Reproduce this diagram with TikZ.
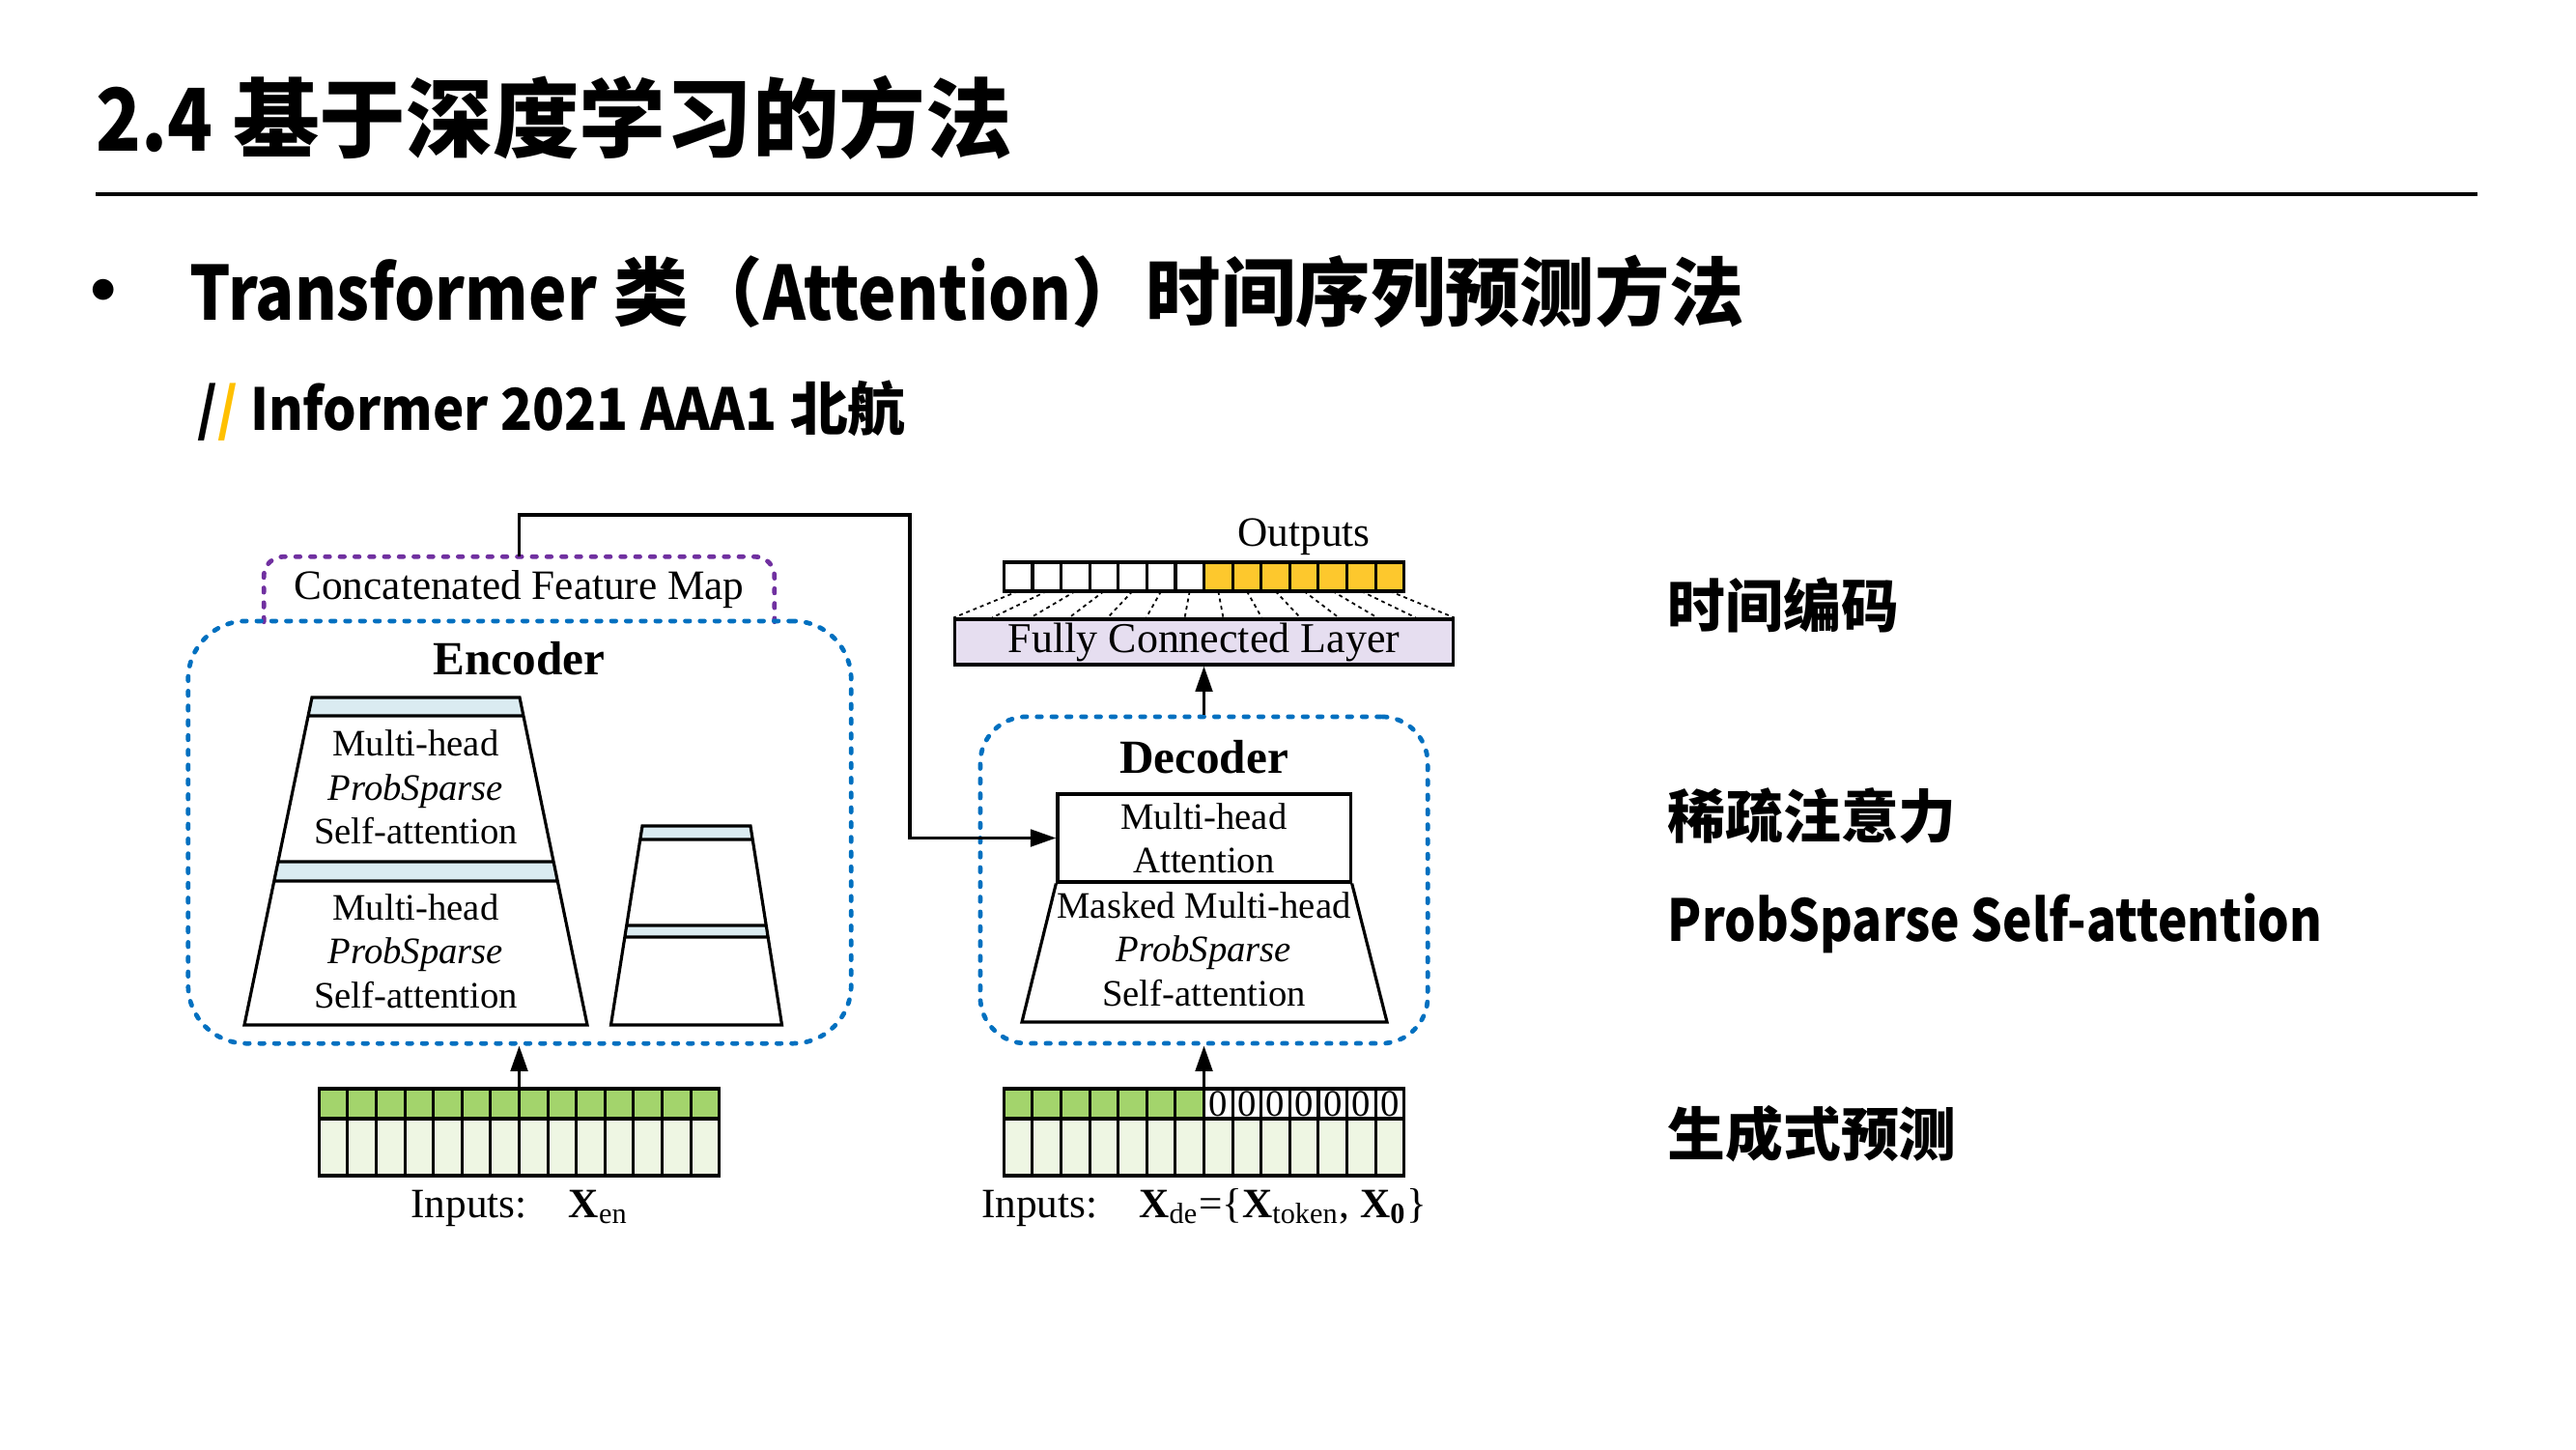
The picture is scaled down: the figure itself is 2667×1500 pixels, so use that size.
\documentclass[tikz,border=0pt]{standalone}
\usepackage{fontspec}
\setmainfont{Liberation Serif}
\newfontfamily\cjk{Noto Sans CJK SC}
\newfontfamily\cjkn{Noto Sans CJK SC}[FakeStretch=0.86]
\newfontfamily\cjkm{Noto Sans CJK SC}[FakeStretch=0.91]
\usepackage{tikz}
\usetikzlibrary{
	positioning,
	calc,
	arrows.meta
}
\definecolor{encblue}{RGB}{0,112,192}
\definecolor{cfmpurple}{RGB}{112,48,160}
\definecolor{tokgreen}{RGB}{163,212,108}
\definecolor{palegreen}{RGB}{238,246,227}
\definecolor{outyellow}{RGB}{253,200,45}
\definecolor{barblue}{RGB}{218,235,241}
\definecolor{fclilac}{RGB}{230,222,240}
\definecolor{slashyellow}{RGB}{255,192,0}
\tikzset{
	blockline/.style={
		line width=0.9pt
	},
	dashbox/.style={
		draw=encblue, line width=1.35pt, line cap=round,
		dash pattern=on 1.3pt off 3.05pt, inner sep=0pt
	},
	cfmline/.style={
		draw=cfmpurple, line width=1.35pt, line cap=round,
		dash pattern=on 1.3pt off 3.05pt, rounded corners=0.2cm
	},
	arr/.style={
		line width=0.9pt, -{Triangle[length=7.5pt,width=5pt]}
	},
	fcdot/.style={
		line width=0.5pt, dash pattern=on 1.1pt off 1.1pt
	},
	txt/.style={
		font=\fontsize{11}{12.9}\selectfont, align=center, inner sep=0pt
	},
	lbl/.style={
		font=\fontsize{12.3}{14}\selectfont, inner sep=0pt
	},
	head/.style={
		font=\fontsize{14}{16}\selectfont\bfseries, inner sep=0pt
	},
	cell/.style={
		draw, line width=0.9pt, inner sep=0pt, outer sep=0pt,
		minimum width=0.296cm, font=\fontsize{11}{12}\selectfont
	},
	tokrow/.style={cell, fill=tokgreen, minimum height=0.31cm},
	seqrow/.style={cell, fill=palegreen, minimum height=0.59cm},
	outrow/.style={cell, minimum height=0.30cm},
	cn/.style={
		inner sep=0pt, anchor=west
	}
}

\begin{document}
\begin{tikzpicture}[x=0.01cm,y=-0.01cm]
	\path[use as bounding box, fill=white] (0,0) rectangle (2667,1500);

	% slide heading
	\node[cn, font=\cjk\bfseries\fontsize{25.5}{30}\selectfont] (title) at (99,122) {{\cjkn 2.4} 基于深度学习的方法};
	\draw[line width=1.4pt] (99,201) -- (2565,201);
	\node[font=\cjk\bfseries\fontsize{22}{26}\selectfont, inner sep=0pt] (dot) at (107,309) {•};
	\node[cn, font=\cjk\bfseries\fontsize{22}{26}\selectfont] (sub) at (196,302) {{\cjkn Transformer} 类（{\cjkn Attention}）时间序列预测方法};
	\node[cn, font=\cjk\bfseries\fontsize{17}{20}\selectfont] (src) at (204,425) {{\cjkm /\textcolor{slashyellow}{/} Informer 2021 AAA1} 北航};

	% notes on the right
	\node[cn, font=\cjk\bfseries\fontsize{17}{20}\selectfont] (n1) at (1726,626) {时间编码};
	\node[cn, font=\cjk\bfseries\fontsize{17}{20}\selectfont] (n2) at (1726,845) {稀疏注意力};
	\node[cn, font=\cjkn\bfseries\fontsize{17}{20}\selectfont] (n3) at (1726,956) {ProbSparse Self-attention};
	\node[cn, font=\cjk\bfseries\fontsize{17}{20}\selectfont] (n4) at (1726,1174) {生成式预测};

	% encoder
	\node[lbl, minimum width=5.27cm, minimum height=0.66cm] (cfm) at (537.5,610) {Concatenated Feature Map};
	\draw[cfmline] (cfm.south west) |- (cfm.north) -| (cfm.south east);
	\node[dashbox, rounded corners=0.6cm, minimum width=6.86cm, minimum height=4.37cm] (enc) at (538,861.5) {};
	\node[head, anchor=base] (enctitle) at (537.5,698) {Encoder};

	\fill[barblue] (323,722) -- (538,722) -- (541.9,741) -- (319.1,741) -- cycle;
	\fill[barblue] (287.9,892) -- (573.1,892) -- (577.2,912) -- (283.8,912) -- cycle;
	\draw[blockline] (323,722) -- (538,722) -- (608,1061) -- (253,1061) -- cycle
		(319.1,741) -- (541.9,741) (287.9,892) -- (573.1,892) (283.8,912) -- (577.2,912);
	\node[txt] (encA) at (430.5,815) {Multi-head\\\textit{ProbSparse}\\Self-attention};
	\node[txt] (encB) at (430.5,984.5) {Multi-head\\\textit{ProbSparse}\\Self-attention};

	\fill[barblue] (665,855) -- (777,855) -- (779.2,869) -- (662.8,869) -- cycle;
	\fill[barblue] (648.75,958) -- (793.25,958) -- (795.1,970) -- (646.9,970) -- cycle;
	\draw[blockline] (665,855) -- (777,855) -- (809.5,1061) -- (632.5,1061) -- cycle
		(662.8,869) -- (779.2,869) (648.75,958) -- (793.25,958) (646.9,970) -- (795.1,970);

	% encoder inputs
	\foreach \i in {0,...,13} {
		\node[tokrow] (et\i) at ({345.1+29.6*\i},1142.5) {};
		\node[seqrow] (es\i) at ({345.1+29.6*\i},1187.5) {};
	}
	\node[lbl, anchor=base] (enclbl) at (538,1260) {Inputs:\quad\textbf{X}\textsubscript{en}};
	\draw[arr] (et6.north east) -- (et6.north east |- enc.south);

	% decoder
	\node[dashbox, rounded corners=0.48cm, minimum width=4.63cm, minimum height=3.38cm] (dec) at (1246.5,911) {};
	\node[head, anchor=base] (dectitle) at (1246.5,800) {Decoder};
	\node[txt, draw, blockline, minimum width=3.03cm, minimum height=0.91cm] (mha) at (1246.5,867.5) {Multi-head\\Attention};
	\draw[blockline] (mha.south west) -- (1058,1058) -- (1436,1058) -- (mha.south east);
	\node[txt] (msk) at (1246.5,982.5) {Masked Multi-head\\\textit{ProbSparse}\\Self-attention};

	% decoder inputs
	\foreach \i in {0,...,13} {
		\ifnum\i<7
			\node[tokrow] (dt\i) at ({1054.1+29.6*\i},1142.5) {};
		\else
			\node[outrow, minimum height=0.31cm] (dt\i) at ({1054.1+29.6*\i},1142.5) {0};
		\fi
		\node[seqrow] (ds\i) at ({1054.1+29.6*\i},1187.5) {};
	}
	\node[lbl, anchor=base] (declbl) at (1246.5,1260) {Inputs:\quad\textbf{X}\textsubscript{de}=\{\textbf{X}\textsubscript{token}, \textbf{X}\textsubscript{\textbf{0}}\}};
	\draw[arr] (dt6.north east) -- (dt6.north east |- dec.south);

	% projection and outputs
	\node[lbl, draw, blockline, fill=fclilac, minimum width=5.15cm, minimum height=0.47cm, font=\fontsize{12.5}{14}\selectfont] (fc) at (1246.5,664.5) {Fully Connected Layer};
	\draw[arr] (dec.north) -- (fc.south);
	\foreach \i in {0,...,13} {
		\ifnum\i<7
			\node[outrow] (o\i) at ({1054.1+29.6*\i},597) {};
		\else
			\node[outrow, fill=outyellow] (o\i) at ({1054.1+29.6*\i},597) {};
		\fi
		\draw[fcdot] (o\i.south) -- ($(fc.north west)!{\i/13}!(fc.north east)$);
	}
	\node[lbl, anchor=base] (outlbl) at (1350,565) {Outputs};

	% feature map into decoder
	\coordinate (bend) at (942,533);
	\draw[arr] (cfm.north) |- (bend) |- (mha.west);
\end{tikzpicture}
\end{document}
